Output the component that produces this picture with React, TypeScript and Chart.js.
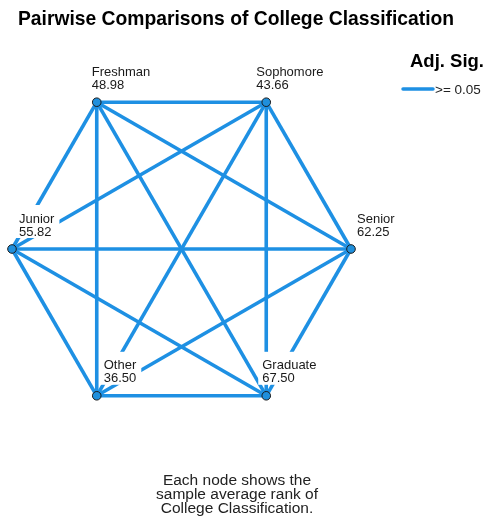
import React, { useEffect, useRef } from "react";
import { Chart, registerables } from "chart.js";

Chart.register(...registerables);

const nodeNames = ["Freshman", "Sophomore", "Senior", "Graduate", "Other", "Junior"];
const nodeRanks = ["48.98", "43.66", "62.25", "67.50", "36.50", "55.82"];
const edgeFrom = ["Freshman", "Freshman", "Freshman", "Freshman", "Freshman", "Sophomore", "Sophomore", "Sophomore", "Sophomore", "Senior", "Senior", "Senior", "Graduate", "Graduate", "Other"];
const edgeTo = ["Sophomore", "Senior", "Graduate", "Other", "Junior", "Senior", "Graduate", "Other", "Junior", "Graduate", "Other", "Junior", "Other", "Junior", "Junior"];
const legendTitle = "Adj. Sig.";
const legendLabel = ">= 0.05";
const chartTitle = "Pairwise Comparisons of College Classification";
const footnote = ["Each node shows the", "sample average rank of", "College Classification."];

// label offsets (layout only)
const labelDx = [-5, -10, 6, -4, 7, 7];

const LINE = "#1e90e3";
const FONT = "'Liberation Sans', Arial, sans-serif";

function nodePos(i: number) {
  const a = ((120 - 60 * i) * Math.PI) / 180;
  return { x: Math.cos(a), y: Math.sin(a) };
}

export default function App() {
  const ref = useRef<HTMLCanvasElement>(null);
  useEffect(() => {
    const pts = nodeNames.map((_, i) => nodePos(i));
    const idx = (n: string) => nodeNames.indexOf(n);
    const edgeSets = edgeFrom.map((f, k) => ({
      type: "scatter" as const,
      data: [pts[idx(f)], pts[idx(edgeTo[k])]],
      showLine: true,
      borderColor: LINE,
      borderWidth: 3.6,
      pointRadius: 0,
      clip: false as any,
      order: 5,
    }));
    const nodeSet = {
      type: "scatter" as const,
      data: pts,
      pointRadius: 4.3,
      pointBackgroundColor: "#1f8fdc",
      pointBorderColor: "#1a1a1a",
      pointBorderWidth: 1,
      showLine: false,
      clip: false as any,
      order: 0,
    };
    const deco = {
      id: "deco",
      afterDatasetsDraw(chart: any) {
        const ctx = chart.ctx as CanvasRenderingContext2D;
        const xs = chart.scales.x;
        const ys = chart.scales.y;
        ctx.save();
        // node labels
        ctx.font = `13px ${FONT}`;
        ctx.textBaseline = "middle";
        ctx.textAlign = "left";
        nodeNames.forEach((n, i) => {
          const px = xs.getPixelForValue(pts[i].x) + labelDx[i];
          const py = ys.getPixelForValue(pts[i].y);
          const w = Math.max(ctx.measureText(n).width, ctx.measureText(nodeRanks[i]).width);
          ctx.fillStyle = "#ffffff";
          ctx.fillRect(px - 4, py - 44, w + 9, 33);
          ctx.fillStyle = "#1a1a1a";
          ctx.fillText(n, px, py - 30);
          ctx.fillText(nodeRanks[i], px, py - 17);
        });
        // title
        ctx.fillStyle = "#000000";
        ctx.font = `bold 19.3px ${FONT}`;
        ctx.textAlign = "left";
        ctx.fillText(chartTitle, 18, 20);
        // legend
        ctx.font = `bold 18.5px ${FONT}`;
        ctx.textAlign = "right";
        ctx.fillText(legendTitle, 484, 62);
        ctx.strokeStyle = LINE;
        ctx.lineWidth = 3.5;
        ctx.lineCap = "round";
        ctx.beginPath();
        ctx.moveTo(403, 89);
        ctx.lineTo(433, 89);
        ctx.stroke();
        ctx.fillStyle = "#222222";
        ctx.font = `13.5px ${FONT}`;
        ctx.textAlign = "left";
        ctx.fillText(legendLabel, 435, 90);
        // footnote
        ctx.font = `15.5px ${FONT}`;
        ctx.textAlign = "center";
        footnote.forEach((t, k) => ctx.fillText(t, 237, 481 + k * 14));
        ctx.restore();
      },
    };
    const chart = new Chart(ref.current!, {
      type: "scatter",
      data: { datasets: [nodeSet as any, ...edgeSets] },
      options: {
        responsive: false,
        animation: false,
        devicePixelRatio: 1,
        layout: { padding: { left: 12, right: 139, top: 79.5, bottom: 102.5 } },
        scales: {
          x: { type: "linear", min: -1, max: 1, display: false },
          y: { type: "linear", min: -1, max: 1, display: false },
        },
        plugins: { legend: { display: false }, title: { display: false }, tooltip: { enabled: false } },
        events: [],
      },
      plugins: [deco],
    });
    return () => chart.destroy();
  }, []);
  return (
    <div style={{ position: "absolute", left: 0, top: 0, width: 490, height: 521, background: "#fff" }}>
      <canvas ref={ref} width={490} height={521} style={{ display: "block" }} />
    </div>
  );
}
